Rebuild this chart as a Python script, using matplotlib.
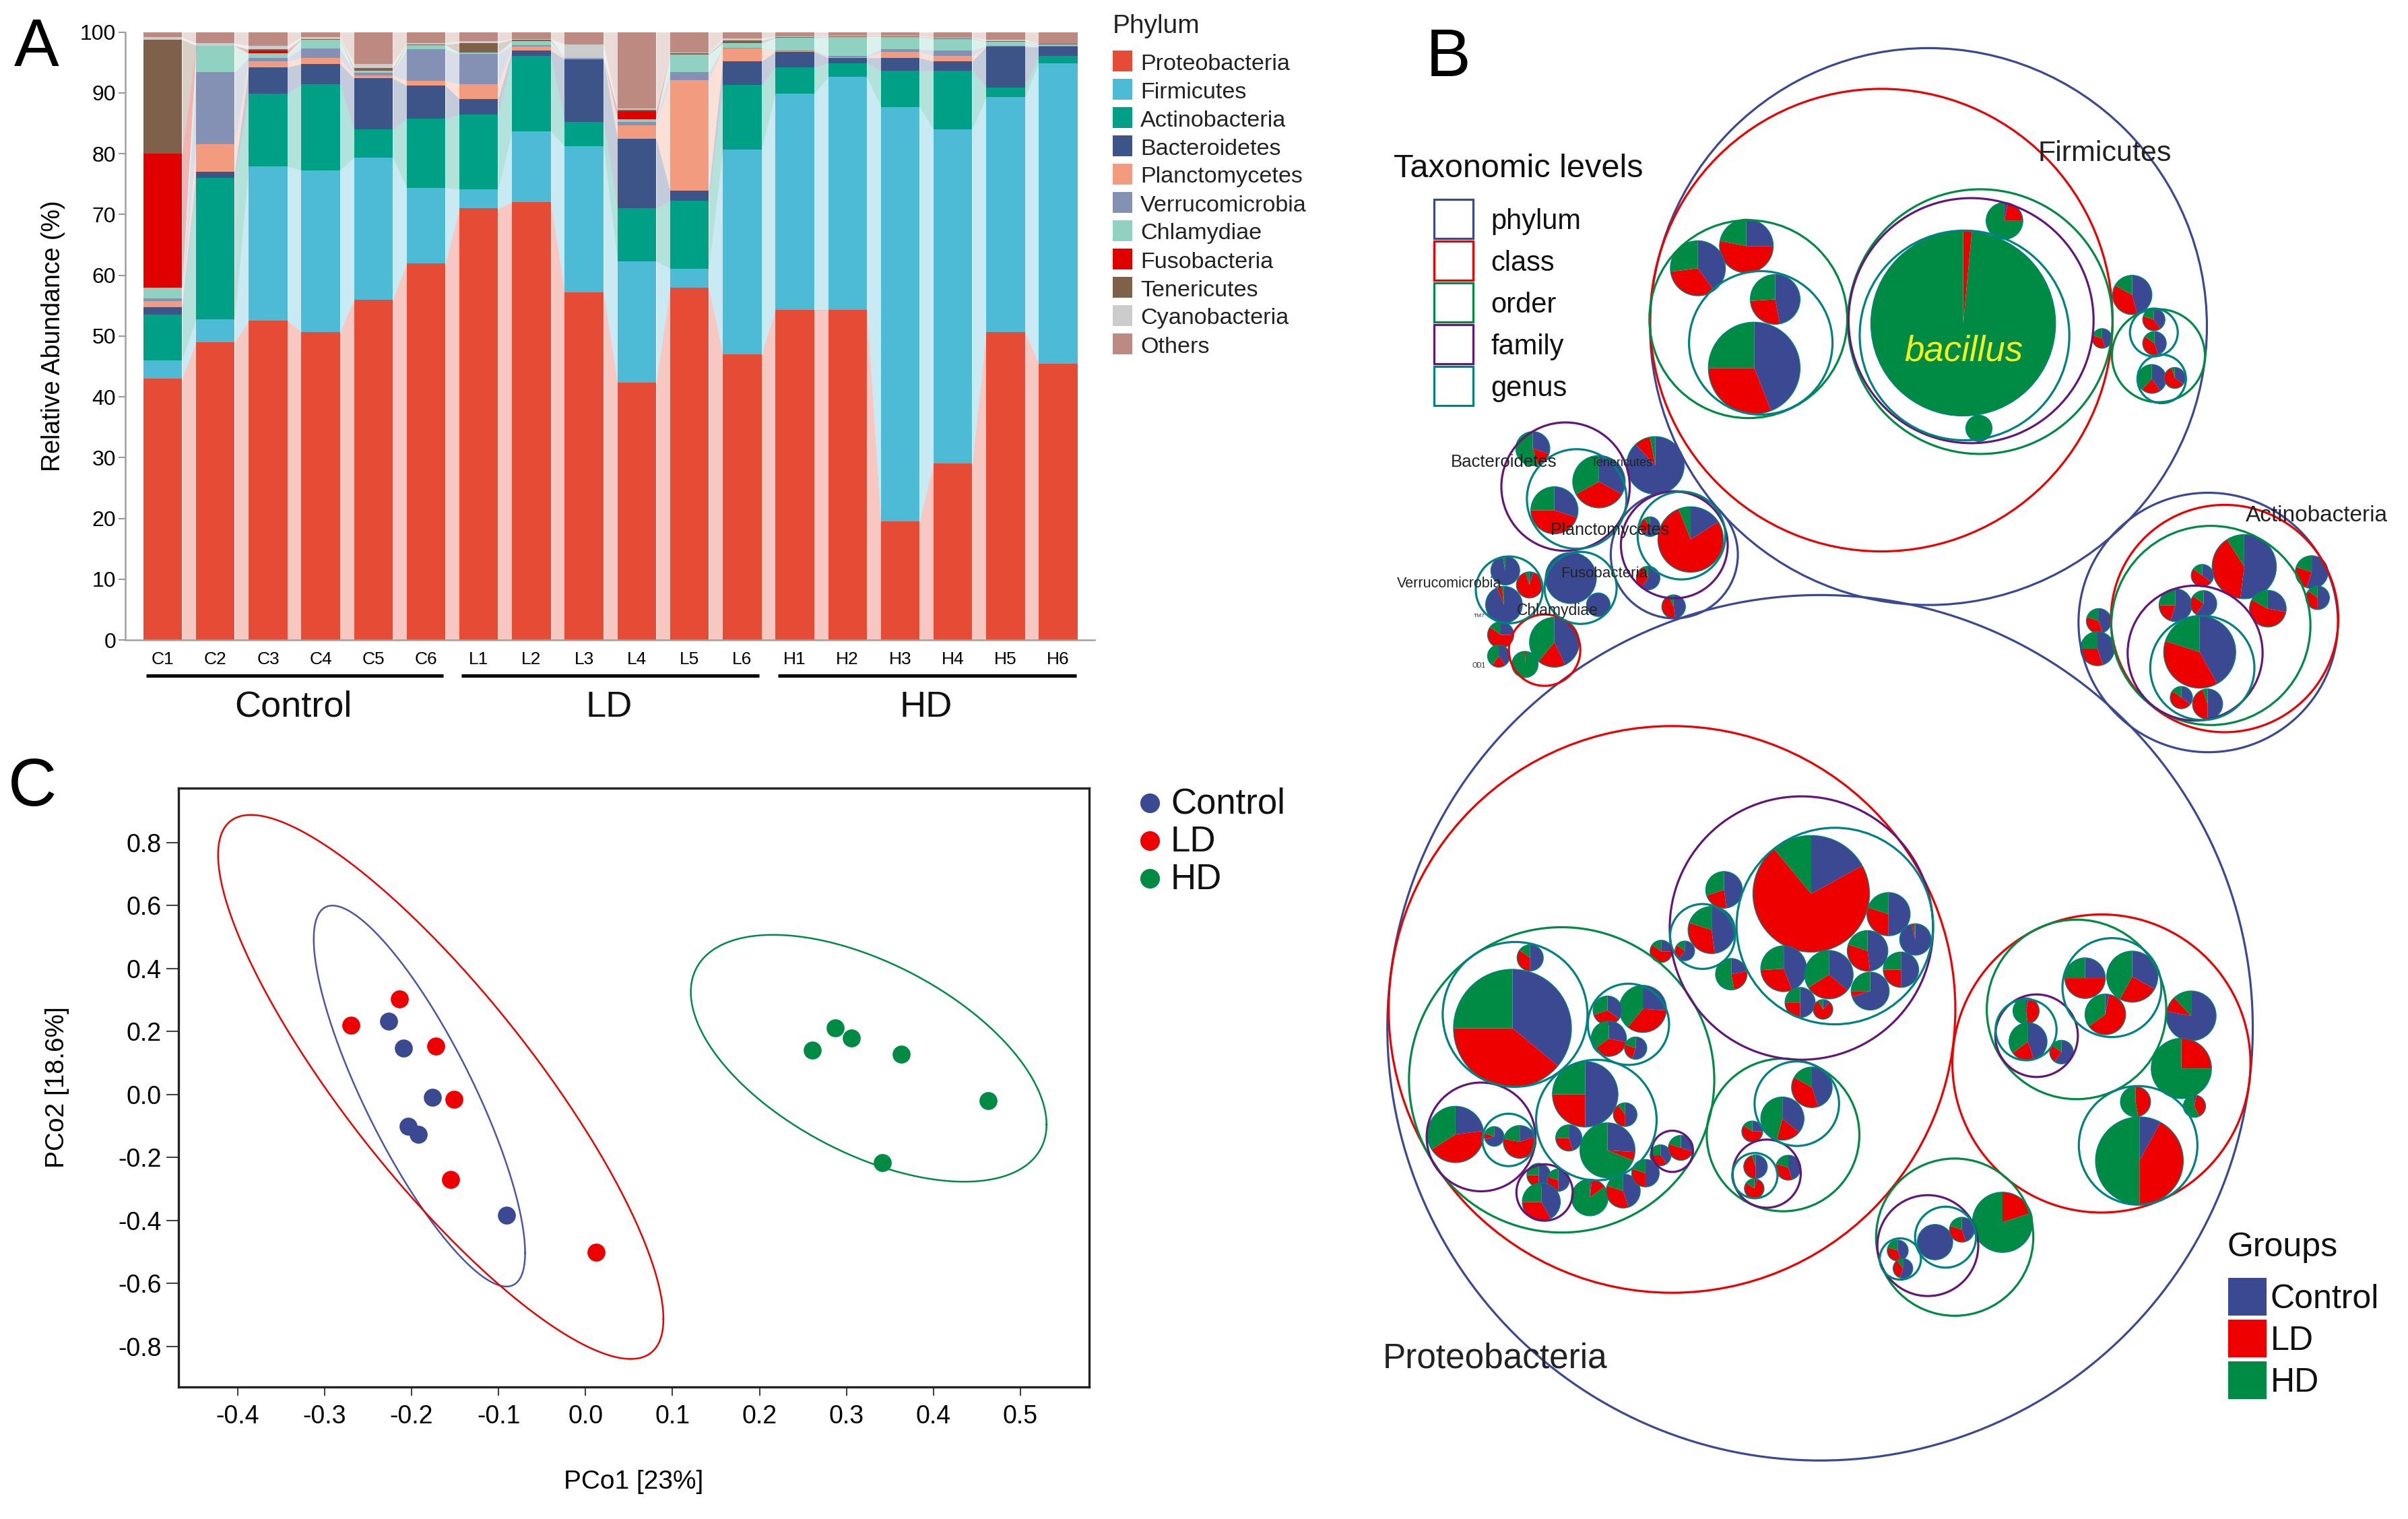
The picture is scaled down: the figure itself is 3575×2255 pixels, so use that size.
import numpy as np
import matplotlib
matplotlib.use('Agg')
from matplotlib import pyplot as plt
from matplotlib.patches import Circle, Wedge, Rectangle

plt.rcParams['font.family'] = ['Liberation Sans', 'DejaVu Sans']

W, H = 3575, 2255

# panel A
samples = ['C1', 'C2', 'C3', 'C4', 'C5', 'C6', 'L1', 'L2', 'L3', 'L4', 'L5', 'L6',
           'H1', 'H2', 'H3', 'H4', 'H5', 'H6']
phyla = ['Proteobacteria', 'Firmicutes', 'Actinobacteria', 'Bacteroidetes', 'Planctomycetes',
         'Verrucomicrobia', 'Chlamydiae', 'Fusobacteria', 'Tenericutes', 'Cyanobacteria', 'Others']
proteo = [43, 49, 52.5, 50.7, 56, 62, 71, 72, 57.2, 42.3, 58, 47, 54.3, 54.3, 19.5, 29, 50.7, 45.4]
firmi = [3, 3.8, 25.4, 26.6, 23.4, 12.4, 3.1, 11.7, 24, 20, 3.1, 33.7, 35.6, 38.3, 68.2, 55, 38.6, 49.5]
actino = [7.5, 23.2, 12, 14.1, 4.6, 11.4, 12.4, 12.4, 4, 8.7, 11.2, 10.6, 4.3, 2.3, 5.9, 9.7, 1.6, 1.2]
bactero = [1.2, 1, 4.3, 3.4, 8.4, 5.4, 2.5, .9, 10.3, 11.5, 1.6, 3.9, 2.6, .9, 2.2, 1.5, 6.7, 1.5]
plancto = [1, 4.6, 1, .9, .5, .8, 2.4, .6, .1, 2.2, 18.2, 2.1, .1, .1, .9, .9, .05, .05]
verruco = [.5, 11.8, .6, 1.6, .4, 5.2, 5, .3, .1, .5, 1.3, .1, .1, .2, .5, .9, .05, .05]
chlamy = [1.8, 4.3, .7, 1.5, .3, .7, .2, .6, 0, .5, 2.9, .8, 2.1, 3.1, 2, 1.9, .7, .3]
fuso = [22, 0, .5, 0, .1, 0, 0, 0, 0, 1.3, 0, 0, 0, 0, 0, 0, 0, 0]
teneri = [18.8, .1, .2, .1, .4, .1, 1.6, .3, 0, .2, .2, .4, .1, .1, .1, .1, .1, .05]
cyano = [.4, .4, .6, .3, .7, .2, .3, .1, 2.3, .2, .1, .4, .1, .1, .1, .1, .3, .05]
others = [.8, 1.8, 2.2, .8, 5.2, 1.8, 1.5, 1.1, 2, 12.6, 3.4, 1, .7, .6, .6, .9, 1.2, 1.9]
phylum_colors = ['#E64B35', '#4DBBD5', '#00A087', '#3C5488', '#F39B7F', '#8491B4',
                 '#91D1C2', '#E00000', '#7E6148', '#CCCCCC', '#BC8A80']

# panel C
control_x = [-.226, -.209, -.176, -.204, -.192, -.091]
control_y = [.232, .148, -.008, -.1, -.127, -.384]
ld_x = [-.214, -.27, -.172, -.151, -.155, .012]
ld_y = [.304, .219, .153, -.016, -.271, -.501]
hd_x = [.261, .287, .306, .363, .463, .341]
hd_y = [.14, .212, .179, .128, -.019, -.217]
# centre x, centre y, half width, half height, correlation
control_ell = (-.191, -.005, .1215, .605, -.823)
ld_ell = (-.1665, .024, .256, .864, -.853)
hd_ell = (.3255, .115, .2045, .392, -.537)

phylum_up = [(836, 661, 425), (1263, 1260, 198), (448, 1123, 97)]
phylum_lo = [(670.5, 578, 660.5)]
class_up = [(764, 648, 353), (1288, 1252, 173.5), (250, 1316, 54.5)]
class_lo = [(444.5, 541, 432.5), (1100, 650, 227.5)]
order_up = [(561, 646, 151), (915, 651, 202), (1187, 720, 71), (1267, 1266, 152)]
order_lo = [(276, 683, 233), (614, 794, 116.5), (1062, 541, 137), (876, 1000, 120)]
family_up = [(901, 649, 187), (282, 985, 98), (448, 1103, 81.5), (1243, 1322, 103)]
family_lo = [(642, 377, 201), (153, 798, 83), (250, 910, 43), (445, 827, 31.5),
             (589, 872, 52), (1001, 594, 63), (835, 1017, 77)]
genus_up = [(891, 679, 160), (580, 694, 109.5), (1180, 673, 36.5), (1192, 767, 37),
            (299, 1010, 76), (459, 1084, 67), (196, 1194, 51), (305, 1190, 55), (1254, 1352, 79.5)]
genus_lo = [(693, 373, 150), (491, 394, 49.5), (205, 551, 110.5), (378, 571, 62), (329, 764, 92),
            (195, 804, 40), (635, 731, 64.5), (571, 876, 34.5), (1116, 497, 75.5), (985, 582, 46.5),
            (1156, 815, 90.5), (862, 1000, 46.5), (793, 1044, 31.5)]

# x, y, radius, control, LD, HD
pies_up = [
    (889, 655, 141, 0, 1.5, 98.5), (952, 447, 28, 3, 22, 75), (913, 867, 20, 0, 0, 100),
    (558, 498, 41, 25, 53, 22), (484, 543, 42, 40, 33, 27), (602, 606, 38, 47, 27, 26),
    (570, 745, 70, 44, 31, 25), (1147, 597, 30, 46, 37, 17), (1180, 647, 17, 40, 40, 20),
    (1181, 695, 18, 45, 40, 15), (1177, 767, 22, 40, 22, 38), (1212, 765, 16, 35, 60, 5),
    (1101, 685, 15, 45, 35, 20), (232, 908, 26, 30, 15, 55), (333, 975, 40, 33, 34, 33),
    (265, 1033, 36, 30, 45, 25), (419, 942, 44, 88, 9, 3), (473, 1092, 50, 16, 78, 6),
    (411, 1066, 15, 60, 30, 10), (408, 1170, 18, 60, 35, 5), (447, 1228, 18, 48, 45, 7),
    (190, 1155, 22, 97, 0, 3), (227, 1184, 20, 5, 90, 5), (188, 1224, 28, 94, 4, 2),
    (290, 1170, 39, 100, 0, 0), (332, 1224, 18, 100, 0, 0), (183, 1285, 20, 25, 60, 15),
    (180, 1328, 17, 40, 20, 40), (265, 1300, 38, 43, 18, 39), (220, 1345, 20, 0, 1, 99),
    (1318, 1147, 49, 52, 39, 9), (1254, 1165, 17, 35, 50, 15), (1354, 1232, 28, 28, 55, 17),
    (1421, 1158, 25, 55, 25, 20), (1430, 1210, 18, 50, 35, 15), (1213, 1225, 25, 55, 20, 25),
    (1256, 1222, 20, 60, 25, 15), (1250, 1320, 55, 42, 38, 20), (1222, 1412, 17, 35, 50, 15),
    (1262, 1425, 23, 50, 45, 5), (1096, 1257, 19, 45, 35, 20), (1094, 1313, 26, 45, 30, 25),
]
pies_lo = [
    (657, 308, 89, 17, 72, 11), (775, 349, 33, 50, 30, 20), (816, 400, 24, 96, 2, 2),
    (615, 459, 35, 44, 30, 26), (684, 471, 37, 36, 30, 34), (743, 423, 31, 48, 32, 20),
    (794, 461, 27, 50, 25, 25), (747, 504, 29, 70, 5, 25), (640, 527, 23, 50, 25, 25),
    (675, 541, 15, 12, 80, 8), (524, 300, 28, 48, 22, 30), (505, 381, 36, 48, 32, 20),
    (535, 470, 24, 22, 25, 53), (428, 424, 17, 25, 60, 15), (464, 423, 15, 60, 25, 15),
    (201, 579, 90, 36, 39, 25), (228, 437, 20, 50, 35, 15), (400, 540, 36, 26, 35, 39),
    (346, 543, 22, 35, 35, 30), (348, 600, 27, 28, 37, 35), (389, 619, 17, 55, 25, 20),
    (312, 712, 50, 50, 25, 25), (373, 753, 18, 50, 40, 10), (287, 800, 20, 45, 30, 25),
    (346, 825, 42, 26, 5, 69), (114, 793, 43, 23, 43, 34), (173, 797, 15, 70, 10, 20),
    (212, 808, 25, 20, 58, 22), (241, 875, 18, 50, 25, 25), (271, 885, 17, 50, 30, 20),
    (245, 929, 29, 42, 33, 25), (319, 920, 28, 2, 13, 85), (370, 907, 26, 45, 35, 20),
    (404, 871, 21, 50, 30, 20), (427, 835, 16, 40, 35, 25), (458, 820, 19, 30, 50, 20),
    (658, 698, 31, 45, 38, 17), (613, 761, 33, 36, 18, 46), (567, 787, 16, 25, 60, 15),
    (572, 858, 18, 50, 45, 5), (570, 902, 15, 5, 80, 15), (622, 860, 19, 45, 35, 20),
    (1075, 478, 31, 25, 50, 25), (1147, 475, 39, 33, 25, 42), (1106, 551, 31, 3, 62, 35),
    (985, 544, 20, 3, 45, 52), (988, 606, 29, 45, 20, 35), (1039, 627, 18, 60, 25, 15),
    (1237, 554, 38, 78, 10, 12), (1222, 660, 46, 0, 25, 75), (1242, 736, 17, 3, 40, 57),
    (1152, 727, 23, 0, 47, 53), (1158, 846, 67, 8, 42, 50), (949, 970, 46, 0, 20, 80),
    (846, 1010, 27, 100, 0, 0), (887, 985, 19, 45, 35, 20), (789, 1027, 16, 45, 35, 20),
    (797, 1063, 15, 55, 35, 10),
]
# label, x, y, size, crop
clade_labels = [('Firmicutes', 1105, 305, 31, 'up'), ('Actinobacteria', 1429, 1038, 24, 'up'),
                ('Bacteroidetes', 188, 930, 18.5, 'up'), ('Tenericutes', 368, 932, 13, 'up'),
                ('Planctomycetes', 350, 1068, 18, 'up'), ('Fusobacteria', 341, 1155, 16, 'up'),
                ('Verrucomicrobia', 104, 1176, 15.5, 'up'), ('Chlamydiae', 270, 1231, 16.5, 'up'),
                ('TM7', 150, 1241, 6, 'up'), ('OD1', 150, 1342, 7, 'up'),
                ('Proteobacteria', 174, 1240, 37, 'lo')]
levels = ['phylum', 'class', 'order', 'family', 'genus']
groups = ['Control', 'LD', 'HD']

BLUE, RED, GREEN, PURPLE, TEAL = '#3B4992', '#EE0000', '#008B45', '#631879', '#008280'
TEXT_DY = 4  # liberation sits a bit high with va=center


def up(x, y):
    return 2050 + .9726 * x, .7334 * y


def lo(x, y):
    return 2050 + .9726 * x, 1100 + .7366 * y


fig = plt.figure(figsize=(W / 100, H / 100), dpi=100, facecolor='white')

# ---- A ----
ax_a = fig.add_axes([186 / W, 1 - 950 / H, (1625 - 186) / W, (950 - 47.7) / H])
x = np.arange(len(samples))
bar_w = .734
stack = [proteo, firmi, actino, bactero, plancto, verruco, chlamy, fuso, teneri, cyano, others]
bottom = np.zeros(len(samples))
for vals, col in zip(stack, phylum_colors):
    vals = np.array(vals, dtype=float)
    ax_a.bar(x, vals, bar_w, bottom=bottom, color=col, linewidth=0)
    for i in range(len(samples) - 1):
        ax_a.fill_between([x[i] + bar_w / 2, x[i + 1] - bar_w / 2],
                          [bottom[i], bottom[i + 1]],
                          [bottom[i] + vals[i], bottom[i + 1] + vals[i + 1]],
                          color=col, alpha=.3, linewidth=0)
    bottom += vals
ax_a.set_xlim(-.71, 17.69)
ax_a.set_ylim(0, 100)
ax_a.set_yticks(range(0, 101, 10))
ax_a.set_xticks(x)
ax_a.set_xticklabels(samples)
ax_a.tick_params(axis='y', labelsize=23, length=7, width=1.5, color='#999999', pad=3)
ax_a.tick_params(axis='x', labelsize=19, length=0, pad=12)
ax_a.spines[['top', 'right']].set_visible(False)
ax_a.spines[['left', 'bottom']].set_color('#a0a0a0')
ax_a.spines[['left', 'bottom']].set_linewidth(1.8)
ax_a.set_ylabel('Relative Abundance (%)', fontsize=27, labelpad=16)

# ---- C ----
ax_c = fig.add_axes([265 / W, 1 - 2059 / H, (1617 - 265) / W, (2059 - 1170) / H])
t = np.linspace(0, 2 * np.pi, 400)
for px, py, ell, col in [(control_x, control_y, control_ell, '#4A57A2'), (ld_x, ld_y, ld_ell, RED),
                         (hd_x, hd_y, hd_ell, GREEN)]:
    cx, cy, a, b, rho = ell
    ax_c.plot(cx + a * np.cos(t), cy + b * np.cos(t - np.arccos(rho)), color=col, lw=1.8)
for px, py, col in [(control_x, control_y, BLUE), (ld_x, ld_y, RED), (hd_x, hd_y, GREEN)]:
    ax_c.scatter(px, py, s=370, color=col, linewidth=0, zorder=3)
ax_c.set_xlim(-.468, .579)
ax_c.set_ylim(-.929, .973)
x_ticks = np.round(np.arange(-.4, .51, .1), 1)
y_ticks = np.round(np.arange(-.8, .81, .2), 1)
ax_c.set_xticks(x_ticks)
ax_c.set_xticklabels(['%.1f' % (v + 0.0) for v in x_ticks])
ax_c.set_yticks(y_ticks)
ax_c.set_yticklabels(['%.1f' % (v + 0.0) for v in y_ticks])
ax_c.tick_params(axis='x', labelsize=27, length=9, width=1.5, color='#444444', pad=10)
ax_c.tick_params(axis='y', labelsize=27, length=13, width=1.5, color='#444444', pad=5)
for sp in ax_c.spines.values():
    sp.set_linewidth(2.4)
    sp.set_color('#222222')
ax_c.set_xlabel('PCo1 [23%]', fontsize=28, labelpad=44)
ax_c.set_ylabel('PCo2 [18.6%]', fontsize=28, labelpad=52)

# ---- overlay in pixels: B, legends and letters ----
ov = fig.add_axes([0, 0, 1, 1], facecolor='none')
ov.set_xlim(0, W)
ov.set_ylim(H, 0)
ov.axis('off')


def draw_pie(cx, cy, r, fracs):
    start = -90
    for val, col in zip(fracs, [BLUE, RED, GREEN]):
        if val > 0:
            end = start + 3.6 * val / (sum(fracs) / 100)
            ov.add_patch(Wedge((cx, cy), r, start, end, facecolor=col, edgecolor='none'))
            start = end
    ov.add_patch(Circle((cx, cy), r, fill=False, edgecolor=TEAL, lw=.9))


for pies, conv in [(pies_up, up), (pies_lo, lo)]:
    for px, py, pr, c1, c2, c3 in pies:
        cx, cy = conv(px, py)
        draw_pie(cx, cy, .9726 * pr, (c1, c2, c3))

for rings, conv, col in [(phylum_up, up, BLUE), (phylum_lo, lo, BLUE), (class_up, up, RED),
                         (class_lo, lo, RED), (order_up, up, GREEN), (order_lo, lo, GREEN),
                         (family_up, up, PURPLE), (family_lo, lo, PURPLE),
                         (genus_up, up, TEAL), (genus_lo, lo, TEAL)]:
    for rx, ry, rr in rings:
        ov.add_patch(Circle(conv(rx, ry), .9726 * rr, fill=False, edgecolor=col, lw=2.3))

for label, lx, ly, size, crop in clade_labels:
    tx, ty = up(lx, ly) if crop == 'up' else lo(lx, ly)
    ov.text(tx, ty + TEXT_DY, label, fontsize=size, ha='center', va='center', color='#222222')
tx, ty = up(890, 705)
ov.text(tx, ty + TEXT_DY, 'bacillus', fontsize=38, style='italic', color='#F4F01E', ha='center', va='center')

# taxonomic levels legend
tx, ty = up(20, 336)
ov.text(tx, ty + TEXT_DY, 'Taxonomic levels', fontsize=35, va='center', color='#111111')
for i, (lev, col) in enumerate(zip(levels, [BLUE, RED, GREEN, PURPLE, TEAL])):
    x0, y0 = up(81, 404 + 84.3 * i)
    x1, y1 = up(141, 483 + 84.3 * i)
    ov.add_patch(Rectangle((x0, y0), x1 - x0, y1 - y0, fill=False, edgecolor=col, lw=2.3))
    ov.text(up(168, 0)[0], (y0 + y1) / 2 + TEXT_DY, lev, fontsize=30, va='center', color='#111111')

# groups legend
tx, ty = lo(1292, 1015)
ov.text(tx, ty + TEXT_DY, 'Groups', fontsize=36, va='center', color='#111111')
for i, (grp, col) in enumerate(zip(groups, [BLUE, RED, GREEN])):
    x0, y0 = lo(1293, 1082 + 84 * i)
    x1, y1 = lo(1352, 1158 + 84 * i)
    ov.add_patch(Rectangle((x0, y0), x1 - x0, y1 - y0, facecolor=col, edgecolor='none'))
    ov.text(lo(1358, 0)[0], (y0 + y1) / 2 + TEXT_DY, grp, fontsize=36, va='center', color='#111111')

# phylum legend
ov.text(1652, 35 + TEXT_DY, 'Phylum', fontsize=28, va='center', color='#222222')
for i, (name, col) in enumerate(zip(phyla, phylum_colors)):
    ov.add_patch(Rectangle((1652, 75 + 42 * i), 29, 31, facecolor=col, edgecolor='none'))
    ov.text(1693, 91 + 42 * i + TEXT_DY, name, fontsize=24.6, va='center', color='#222222')

# sample groups under panel A
for name, x0, x1 in [('Control', 217, 658), ('LD', 685, 1127), ('HD', 1155, 1598)]:
    ov.plot([x0, x1], [1003, 1003], color='black', lw=3.6, solid_capstyle='butt')
    ov.text((x0 + x1) / 2 - 2, 1046 + TEXT_DY, name, fontsize=39, ha='center', va='center', color='#111111')

# legend of panel C
for i, (name, col) in enumerate(zip(groups, [BLUE, RED, GREEN])):
    ov.scatter([1707], [1192 + 56 * i], s=440, color=col, linewidth=0)
    ov.text(1738, 1190 + 56 * i + TEXT_DY, name, fontsize=38, va='center', color='#111111')

for letter, lx, ly in [('A', 54, 72), ('B', 2150, 87), ('C', 48, 1170)]:
    ov.text(lx, ly, letter, fontsize=72, ha='center', va='center', color='black')

fig.savefig('out.png', dpi=100)
